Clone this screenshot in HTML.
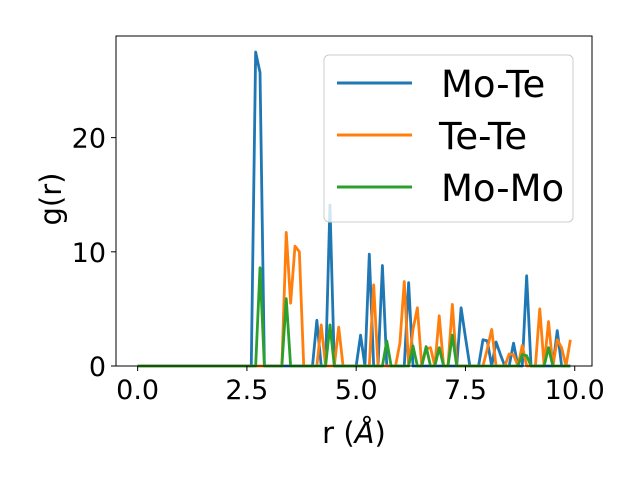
<!DOCTYPE html>
<html><head><meta charset="utf-8"><style>
body{margin:0;background:#fff}
svg text{font-family:"DejaVu Sans","Liberation Sans",sans-serif;fill:#000}
</style></head><body>
<svg id="chart" width="640" height="480" viewBox="0 0 640 480" xmlns="http://www.w3.org/2000/svg">
<rect width="640" height="480" fill="#fff"/>
<g id="series"></g>
<rect x="116" y="36" width="476" height="330" fill="none" stroke="#000" stroke-width="1"/>
<g id="xticks"></g><g id="yticks"></g>
<text x="354" y="443" font-size="29" text-anchor="middle">r (<tspan font-style="italic">Å</tspan>)</text>
<text transform="translate(61,199) rotate(-90)" font-size="29" text-anchor="middle">g(r)</text>
<g>
<rect x="324" y="55" width="249" height="167" rx="5" fill="#fff" fill-opacity="0.8" stroke="#ccc"/>
<line x1="337" y1="83" x2="412" y2="83" stroke="#1f77b4" stroke-width="3"/>
<text x="441" y="97" font-size="37">Mo-Te</text>
<line x1="337" y1="135" x2="412" y2="135" stroke="#ff7f0e" stroke-width="3"/>
<text x="439" y="149" font-size="37">Te-Te</text>
<line x1="337" y1="187" x2="412" y2="187" stroke="#2ca02c" stroke-width="3"/>
<text x="441" y="201" font-size="37">Mo-Mo</text>
</g>
</svg>
<script>
const rStep = 0.1;
const nPoints = 100;
const moTePeaks = {27:27.5,28:25.7,41:4.0,44:14.1,51:2.7,53:9.8,56:8.8,62:7.3,74:5.1,75:2.5,79:2.3,80:2.2,82:2.1,83:1.0,86:2.0,89:7.9,96:3.1};
const teTePeaks = {34:11.7,35:5.5,36:10.5,37:10.0,42:3.6,46:3.4,54:7.1,60:2.0,61:7.4,63:3.2,64:5.1,66:1.5,67:1.6,69:4.4,72:5.4,80:1.5,81:3.2,85:1.05,86:1.0,88:1.8,92:5.0,94:3.9,96:2.3,97:1.6,99:2.3};
const moMoPeaks = {28:8.6,34:5.9,44:3.6,57:2.2,63:1.75,66:1.7,69:1.6,72:2.7,88:1.0,89:0.9,94:1.6};
const xTicks = [0,2.5,5,7.5,10];
const xTickLabels = ["0.0","2.5","5.0","7.5","10.0"];
const yTicks = [0,10,20];
const yTickLabels = ["0","10","20"];
const xMin=-0.495, xMax=10.395, yMin=0, yMax=28.9;
const X = v => 116 + (v - xMin) / (xMax - xMin) * 476;
const Y = v => 366 - (v - yMin) / (yMax - yMin) * 330;
const NS = "http://www.w3.org/2000/svg";
function build(peaks){const a=[];for(let k=0;k<nPoints;k++)a.push(peaks[k]||0);return a;}
const series = [["mo-te",build(moTePeaks),"#1f77b4"],["te-te",build(teTePeaks),"#ff7f0e"],["mo-mo",build(moMoPeaks),"#2ca02c"]];
const g = document.getElementById("series");
series.forEach(s=>{
  const p=document.createElementNS(NS,"polyline");
  
  
  p.setAttribute("points", s[1].map((v,k)=>X(k*rStep).toFixed(2)+","+Y(v).toFixed(2)).join(" "));
  p.setAttribute("fill","none");p.setAttribute("stroke",s[2]);p.setAttribute("stroke-width","2.8");p.setAttribute("stroke-linejoin","round");
  g.appendChild(p);
});
const xt=document.getElementById("xticks");
xTicks.forEach((v,i)=>{
  const l=document.createElementNS(NS,"line");
  
  
  l.setAttribute("x1",X(v));l.setAttribute("x2",X(v));l.setAttribute("y1",366);l.setAttribute("y2",371);l.setAttribute("stroke","#000");
  xt.appendChild(l);
  const t=document.createElementNS(NS,"text");
  
  
  t.setAttribute("x",X(v));t.setAttribute("y",399);t.setAttribute("font-size","27");t.setAttribute("text-anchor","middle");
  t.textContent=xTickLabels[i];xt.appendChild(t);
});
const yt=document.getElementById("yticks");
yTicks.forEach((v,i)=>{
  const l=document.createElementNS(NS,"line");
  
  
  l.setAttribute("x1",111);l.setAttribute("x2",116);l.setAttribute("y1",Y(v));l.setAttribute("y2",Y(v));l.setAttribute("stroke","#000");
  yt.appendChild(l);
  const t=document.createElementNS(NS,"text");
  
  
  t.setAttribute("x",106);t.setAttribute("y",Y(v)+10);t.setAttribute("font-size","27");t.setAttribute("text-anchor","end");
  t.textContent=yTickLabels[i];yt.appendChild(t);
});
</script>
</body></html>
